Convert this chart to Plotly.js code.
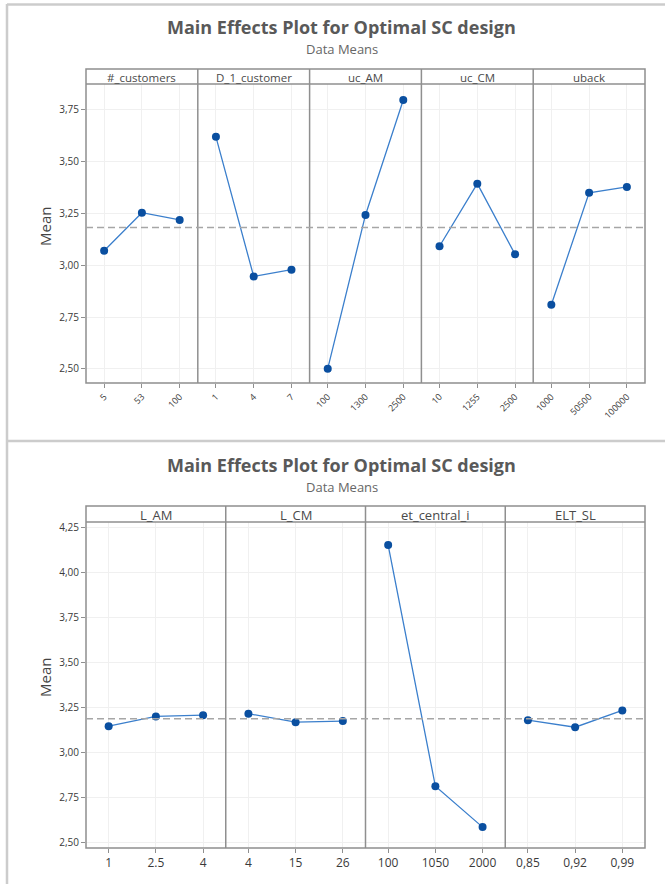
<!DOCTYPE html>
<html>
<head>
<meta charset="utf-8">
<script src="https://cdn.plot.ly/plotly-3.0.1.min.js"></script>
<style>html,body{margin:0;padding:0;background:#fff;}#chart{width:665px;height:884px;}</style>
</head>
<body>
<div id="chart"></div>
<script>
// ---------- data ----------
const chartTitle = "Main Effects Plot for Optimal SC design";
const chartSubtitle = "Data Means";
const yLabel = "Mean";

const topFactors = ["#_customers", "D_1_customer", "uc_AM", "uc_CM", "uback"];
const topLevels = [
  ["5", "53", "100"],
  ["1", "4", "7"],
  ["100", "1300", "2500"],
  ["10", "1255", "2500"],
  ["1000", "50500", "100000"]
];
const topMeans = [
  [3.070, 3.254, 3.219],
  [3.620, 2.946, 2.979],
  [2.501, 3.243, 3.798],
  [3.092, 3.394, 3.053],
  [2.810, 3.350, 3.378]
];
const topGrandMean = 3.182;
const topYTicks = [2.50, 2.75, 3.00, 3.25, 3.50, 3.75];

const botFactors = ["L_AM", "L_CM", "et_central_i", "ELT_SL"];
const botLevels = [
  ["1", "2.5", "4"],
  ["4", "15", "26"],
  ["100", "1050", "2000"],
  ["0,85", "0,92", "0,99"]
];
const botMeans = [
  [3.148, 3.202, 3.209],
  [3.217, 3.170, 3.176],
  [4.154, 2.814, 2.587],
  [3.181, 3.142, 3.235]
];
const botGrandMean = 3.189;
const botYTicks = [2.50, 2.75, 3.00, 3.25, 3.50, 3.75, 4.00, 4.25];

// ---------- layout helpers ----------
const W = 665, H = 884;
const px = x => x / W;
const py = y => 1 - y / H;
const fmt = v => v.toFixed(2).replace('.', ',');

const frameCol = '#8f8f8f';
const gridCol = '#f0f0f0';
const lineCol = '#3b7fcc';
const markCol = '#0a4fa0';
const FONT = '"Open Sans", "Noto Sans", sans-serif';

const rows = [
  {factors: topFactors, levels: topLevels, means: topMeans, grand: topGrandMean, ticks: topYTicks,
   left: 86, right: 645, stripTop: 69, plotTop: 84, plotBottom: 383,
   yrange: [2.432, 3.875], tickangle: -45, tickSize: 9, stripSize: 11.5,
   titleY: 27, subY: 49, meanY: 227},
  {factors: botFactors, levels: botLevels, means: botMeans, grand: botGrandMean, ticks: botYTicks,
   left: 86, right: 645, stripTop: 506, plotTop: 522, plotBottom: 848,
   yrange: [2.471, 4.282], tickangle: 0, tickSize: 12, stripSize: 13,
   titleY: 465, subY: 487, meanY: 678}
];

const data = [];
const layout = {
  width: W, height: H,
  margin: {l: 0, r: 0, t: 0, b: 0},
  paper_bgcolor: '#fff', plot_bgcolor: '#fff',
  showlegend: false,
  font: {family: FONT, color: '#333'},
  shapes: [], annotations: []
};

// outer frame lines of the screenshot panels
const frameLight = '#cccccc';
layout.shapes.push({type: 'line', xref: 'paper', yref: 'paper', x0: px(7), x1: px(7), y0: py(4), y1: py(884), line: {color: frameLight, width: 2.5}});
layout.shapes.push({type: 'line', xref: 'paper', yref: 'paper', x0: px(7), x1: px(665), y0: py(4.5), y1: py(4.5), line: {color: frameLight, width: 2.5}});
layout.shapes.push({type: 'line', xref: 'paper', yref: 'paper', x0: px(7), x1: px(665), y0: py(441), y1: py(441), line: {color: frameLight, width: 2.5}});

let axisIdx = 0;
rows.forEach((row, r) => {
  const n = row.factors.length;
  const pw = (row.right - row.left) / n;
  let firstY = null;
  row.factors.forEach((f, i) => {
    axisIdx++;
    const xa = 'xaxis' + (axisIdx === 1 ? '' : axisIdx);
    const ya = 'yaxis' + (axisIdx === 1 ? '' : axisIdx);
    const xr = 'x' + (axisIdx === 1 ? '' : axisIdx);
    const yr = 'y' + (axisIdx === 1 ? '' : axisIdx);
    if (i === 0) firstY = yr;
    const x0 = row.left + i * pw, x1 = row.left + (i + 1) * pw;
    data.push({
      type: 'scatter', mode: 'lines+markers',
      x: row.levels[i], y: row.means[i],
      xaxis: xr, yaxis: yr,
      line: {color: lineCol, width: 1.3},
      marker: {color: markCol, size: 8},
      hoverinfo: 'x+y'
    });
    layout[xa] = {
      domain: [px(x0), px(x1)], anchor: yr, type: 'category',
      range: [-0.48, 2.48], fixedrange: true,
      showline: false,
      showgrid: true, gridcolor: gridCol, gridwidth: 1, zeroline: false,
      ticks: 'outside', ticklen: 4, tickcolor: frameCol, tickwidth: 1,
      tickangle: row.tickangle,
      tickfont: {size: row.tickSize, color: '#3a3a3a', family: FONT}
    };
    layout[ya] = {
      domain: [py(row.plotBottom), py(row.plotTop)], anchor: xr,
      range: row.yrange, fixedrange: true,
      showline: false,
      showgrid: true, gridcolor: gridCol, gridwidth: 1, zeroline: false,
      tickvals: row.ticks, ticktext: row.ticks.map(fmt),
      showticklabels: i === 0,
      ticks: i === 0 ? 'outside' : '', ticklen: 4, tickcolor: frameCol,
      tickfont: {size: 10, color: '#3a3a3a', family: FONT}
    };
    // divider between panels
    if (i > 0) {
      layout.shapes.push({type: 'line', xref: 'paper', yref: 'paper',
        x0: px(x0), x1: px(x0), y0: py(row.plotBottom), y1: py(row.stripTop),
        line: {color: frameCol, width: 1.5}});
    }
    layout.annotations.push({xref: 'paper', yref: 'paper', x: px((x0 + x1) / 2), y: py((row.stripTop + row.plotTop) / 2 + 0.5),
      text: f, showarrow: false, xanchor: 'center', yanchor: 'middle',
      font: {size: row.stripSize, color: '#4a4a4a', family: FONT}});
  });
  // outer box of the row and strip separator
  layout.shapes.push({type: 'rect', xref: 'paper', yref: 'paper',
    x0: px(row.left), x1: px(row.right), y0: py(row.plotBottom), y1: py(row.stripTop),
    line: {color: frameCol, width: 1.5}});
  layout.shapes.push({type: 'line', xref: 'paper', yref: 'paper',
    x0: px(row.left), x1: px(row.right), y0: py(row.plotTop), y1: py(row.plotTop),
    line: {color: frameCol, width: 1.5}});
  // grand mean reference line
  layout.shapes.push({type: 'line', xref: 'paper', yref: firstY,
    x0: px(row.left), x1: px(row.right), y0: row.grand, y1: row.grand,
    line: {color: '#a6a6a6', width: 1.5, dash: '7px,4px'}});
  // titles
  layout.annotations.push({xref: 'paper', yref: 'paper', x: px(342), y: py(row.titleY),
    text: '<b>' + chartTitle + '</b>', showarrow: false, xanchor: 'center', yanchor: 'middle',
    font: {size: 18, color: '#595959', family: FONT}});
  layout.annotations.push({xref: 'paper', yref: 'paper', x: px(342), y: py(row.subY),
    text: chartSubtitle, showarrow: false, xanchor: 'center', yanchor: 'middle',
    font: {size: 13, color: '#666', family: FONT}});
  layout.annotations.push({xref: 'paper', yref: 'paper', x: px(45), y: py(row.meanY),
    text: yLabel, showarrow: false, textangle: -90, xanchor: 'center', yanchor: 'middle',
    font: {size: 15, color: '#444', family: FONT}});
});

Plotly.newPlot('chart', data, layout, {displayModeBar: false, staticPlot: true});
</script>
</body>
</html>
